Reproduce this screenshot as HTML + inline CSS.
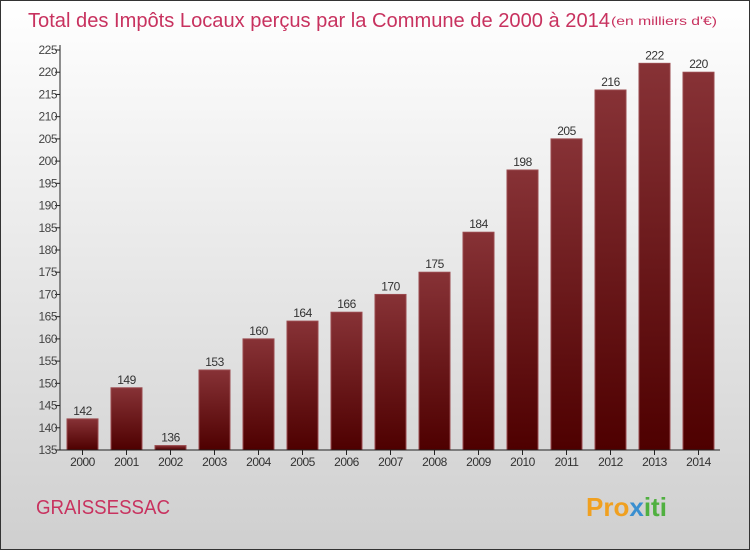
<!DOCTYPE html>
<html><head><meta charset="utf-8"><style>
body{margin:0;width:750px;height:550px;overflow:hidden;font-family:"Liberation Sans",sans-serif}
#c{position:absolute;left:0;top:0;width:748px;height:548px;border:1px solid #333;background:linear-gradient(#fff,#cfcfcf)}
</style></head><body>
<div id="c"></div>
<svg id="s" width="750" height="550" style="position:absolute;left:0;top:0">
<defs><linearGradient id="g" x1="0" y1="0" x2="0" y2="1"><stop offset="0" stop-color="#873236"/><stop offset="1" stop-color="#4e0000"/></linearGradient></defs>
<text x="28" y="27" font-size="20" fill="#c8325f" textLength="582" lengthAdjust="spacingAndGlyphs">Total des Impôts Locaux perçus par la Commune de 2000 à 2014</text>
<text x="611" y="25" font-size="12" fill="#c8325f" textLength="106" lengthAdjust="spacingAndGlyphs">(en milliers d'€)</text>
<text x="36" y="514" font-size="20" fill="#c8325f" textLength="134" lengthAdjust="spacingAndGlyphs">GRAISSESSAC</text>
<text x="586" y="516" font-size="26" font-weight="bold" fill="#f0a020">Pro<tspan fill="#3a8fd0">x</tspan><tspan fill="#50b040">iti</tspan></text>
</svg>
<script>
const years=["2000","2001","2002","2003","2004","2005","2006","2007","2008","2009","2010","2011","2012","2013","2014"];
const values=[142,149,136,153,160,164,166,170,175,184,198,205,216,222,220];
const ticks=[135,140,145,150,155,160,165,170,175,180,185,190,195,200,205,210,215,220,225];
const s=document.getElementById('s'),NS='http://www.w3.org/2000/svg';
const y=v=>450-(v-135)*400/90, x=i=>82.5+i*44;
function el(t,a,txt){const e=document.createElementNS(NS,t);for(const k in a)e.setAttribute(k,a[k]);if(txt!=null)e.textContent=txt;s.appendChild(e);return e;}
ticks.forEach(t=>{
 const l=el('line',{x1:55,x2:60,y1:y(t),y2:y(t),stroke:'#222'});
 
 
 const tx=el('text',{x:57,y:y(t)+4,'font-size':12,'text-anchor':'end',fill:'#444','letter-spacing':'-0.5'},t);
 
 
});
values.forEach((v,i)=>{
 const b=el('rect',{x:x(i)-15.5,y:y(v),width:31,height:450-y(v),fill:'url(#g)',stroke:'#9a4a4e','stroke-width':1});
 
 
 const lb=el('text',{x:x(i),y:y(v)-4,'font-size':12,'text-anchor':'middle',fill:'#333','letter-spacing':'-0.5'},v);
 
 
 const tk=el('line',{x1:x(i),x2:x(i),y1:450,y2:455,stroke:'#222'});
 
 
 const xl=el('text',{x:x(i),y:466,'font-size':12,'text-anchor':'middle',fill:'#333','letter-spacing':'-0.5'},years[i]);
 
 
});
const ya=el('line',{x1:60,x2:60,y1:45,y2:450,stroke:'#222'});


const xa=el('line',{x1:60,x2:720,y1:450,y2:450,stroke:'#222'});


</script>
</body></html>
